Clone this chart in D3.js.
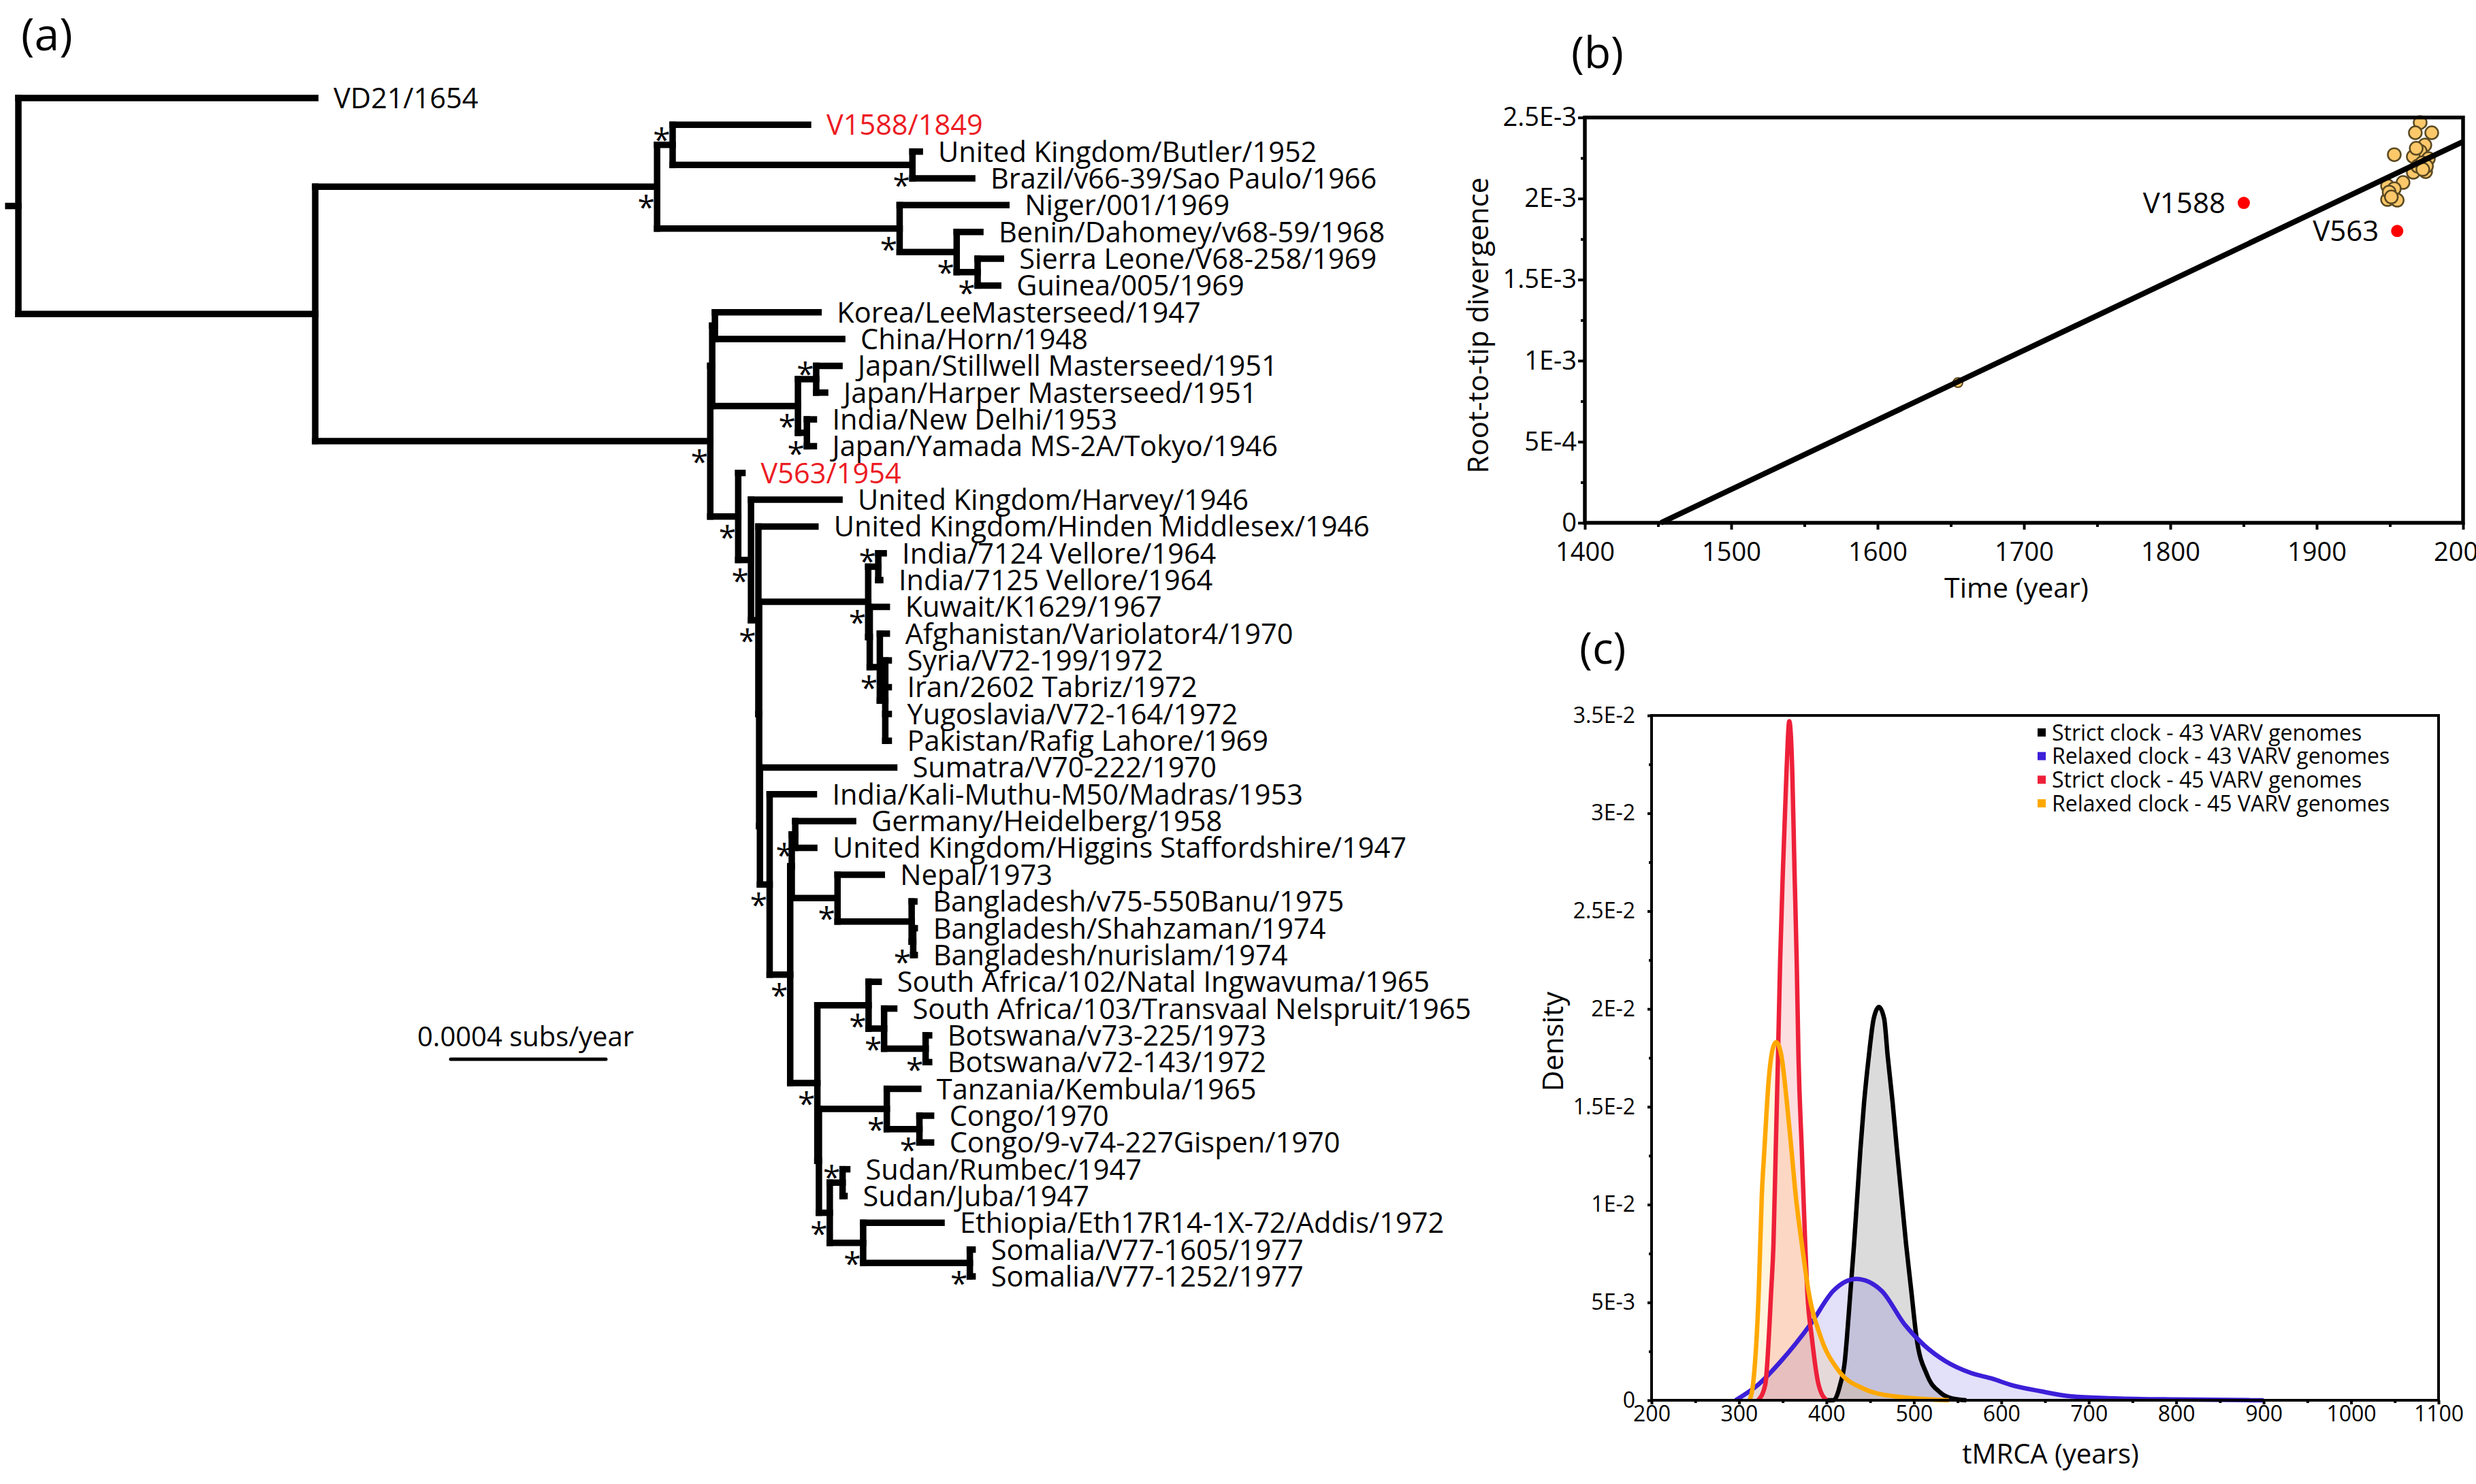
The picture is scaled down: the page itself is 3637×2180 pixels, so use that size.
<!DOCTYPE html>
<html>
<head>
<meta charset="utf-8">
<script src="https://cdn.jsdelivr.net/npm/d3@7"></script>
<style>
body { margin: 0; background: #fff; }
text { font-family: "Open Sans", sans-serif; }
</style>
</head>
<body>
<svg id="fig" width="3637" height="2180"></svg>
<script>
// ---------- (a) tree : [node, parent, branch length in 1e-5 subs/year] ----------
var treeNodes = [
  ["root", null, 0],
  ["VD21/1654", "root", 76.5],
  ["r2", "root", 76.5],
  ["U", "r2", 88.1],
  ["A", "U", 4.0],
  ["V1588/1849", "A", 34.9],
  ["BB", "A", 61.8],
  ["United Kingdom/Butler/1952", "BB", 1.9],
  ["Brazil/v66-39/Sao Paulo/1966", "BB", 15.4],
  ["AF", "U", 62.5],
  ["Niger/001/1969", "AF", 27.5],
  ["B", "AF", 14.7],
  ["Benin/Dahomey/v68-59/1968", "B", 6.1],
  ["C", "B", 5.4],
  ["Sierra Leone/V68-258/1969", "C", 6.0],
  ["Guinea/005/1969", "C", 5.3],
  ["N1", "r2", 101.8],
  ["X", "N1", 0.5],
  ["K", "X", 0.7],
  ["Korea/LeeMasterseed/1947", "K", 26.7],
  ["China/Horn/1948", "K", 32.8],
  ["J", "X", 22.1],
  ["J1", "J", 4.7],
  ["Japan/Stillwell Masterseed/1951", "J1", 6.0],
  ["Japan/Harper Masterseed/1951", "J1", 2.3],
  ["J2", "J", 2.3],
  ["India/New Delhi/1953", "J2", 1.8],
  ["Japan/Yamada MS-2A/Tokyo/1946", "J2", 1.8],
  ["R", "N1", 7.2],
  ["V563/1954", "R", 1.1],
  ["R2", "R", 3.3],
  ["United Kingdom/Harvey/1946", "R2", 22.8],
  ["R3", "R2", 1.9],
  ["United Kingdom/Hinden Middlesex/1946", "R3", 14.7],
  ["R4", "R3", 0.2],
  ["IND", "R4", 28.1],
  ["I2", "IND", 2.6],
  ["India/7124 Vellore/1964", "I2", 1.4],
  ["India/7125 Vellore/1964", "I2", 0.5],
  ["X2", "IND", 0.4],
  ["Kuwait/K1629/1967", "X2", 4.4],
  ["AFG", "X2", 2.6],
  ["Afghanistan/Variolator4/1970", "AFG", 1.8],
  ["AFG2", "AFG", 1.4],
  ["Syria/V72-199/1972", "AFG2", 0.9],
  ["Iran/2602 Tabriz/1972", "AFG2", 0.9],
  ["Yugoslavia/V72-164/1972", "AFG2", 0.9],
  ["Pakistan/Rafig Lahore/1969", "AFG2", 0.9],
  ["R5", "R4", 0.2],
  ["Sumatra/V70-222/1970", "R5", 34.6],
  ["Q", "R5", 2.5],
  ["India/Kali-Muthu-M50/Madras/1953", "Q", 11.4],
  ["Q2", "Q", 5.3],
  ["Q3", "Q2", 0.4],
  ["G", "Q3", 0.9],
  ["Germany/Heidelberg/1958", "G", 14.9],
  ["United Kingdom/Higgins Staffordshire/1947", "G", 4.9],
  ["NB", "Q3", 11.8],
  ["Nepal/1973", "NB", 11.4],
  ["BGD", "NB", 19.1],
  ["Bangladesh/v75-550Banu/1975", "BGD", 0.7],
  ["BGD2", "BGD", 0.4],
  ["Bangladesh/Shahzaman/1974", "BGD2", 0.4],
  ["Bangladesh/nurislam/1974", "BGD2", 0.4],
  ["L", "Q2", 7.0],
  ["SA", "L", 13.2],
  ["South Africa/102/Natal Ingwavuma/1965", "SA", 2.6],
  ["SA2", "SA", 4.0],
  ["South Africa/103/Transvaal Nelspruit/1965", "SA2", 2.6],
  ["BW", "SA2", 10.7],
  ["Botswana/v73-225/1973", "BW", 0.9],
  ["Botswana/v72-143/1972", "BW", 0.9],
  ["L2", "L", 0.4],
  ["TC", "L2", 17.5],
  ["Tanzania/Kembula/1965", "TC", 8.1],
  ["C2", "TC", 8.4],
  ["Congo/1970", "C2", 3.0],
  ["Congo/9-v74-227Gispen/1970", "C2", 3.0],
  ["SES", "L2", 2.8],
  ["SD", "SES", 3.3],
  ["Sudan/Rumbec/1947", "SD", 1.2],
  ["Sudan/Juba/1947", "SD", 0.5],
  ["ES", "SES", 8.6],
  ["Ethiopia/Eth17R14-1X-72/Addis/1972", "ES", 20.2],
  ["SO", "ES", 27.5],
  ["Somalia/V77-1605/1977", "SO", 0.7],
  ["Somalia/V77-1252/1977", "SO", 0.7]
];
var rootStub = 2.6;
var redTips = ["V1588/1849", "V563/1954"];
var starBelow = ["U", "BB", "AF", "B", "C", "N1", "J", "J2", "R", "R2", "R3", "IND", "AFG", "Q", "G",
                 "Q2", "NB", "BGD2", "L", "SA", "SA2", "BW", "TC", "C2", "SES", "ES", "SO"];
var starAbove = ["A", "J1", "I2", "SD"];
var scaleBarValue = 40;            // 40 x 1e-5 = 0.0004
var scaleBarText = "0.0004 subs/year";

// ---------- (b) root-to-tip ----------
var bYearTicks = [1400, 1500, 1600, 1700, 1800, 1900, 2000];
var bYearMinor = [1450, 1550, 1650, 1750, 1850, 1950];
var bDivTicks = [0, 5e-4, 1e-3, 1.5e-3, 2e-3, 2.5e-3];
var bDivLabels = ["0", "5E-4", "1E-3", "1.5E-3", "2E-3", "2.5E-3"];
var bDivMinor = [2.5e-4, 7.5e-4, 1.25e-3, 1.75e-3, 2.25e-3];
var sampleYears = [1970.7, 1967.4, 1978.6, 1973.9, 1970.7, 1953.0, 1966.0, 1976.3, 1966.0, 1974.4,
                   1959.0, 1948.4, 1953.0, 1948.4, 1955.0, 1949.5, 1951.0, 1969.0, 1972.0, 1975.0, 1968.0, 1972.5];
var sampleDiv   = [2.469e-3, 2.406e-3, 2.406e-3, 2.330e-3, 2.292e-3, 2.271e-3, 2.259e-3, 2.246e-3, 2.162e-3, 2.166e-3,
                   2.099e-3, 2.078e-3, 2.061e-3, 1.994e-3, 1.990e-3, 2.040e-3, 2.010e-3, 2.200e-3, 2.220e-3, 2.200e-3, 2.310e-3, 2.180e-3];
var ancientYear = [1654.9];
var ancientDiv = [8.65e-4];
var outlierNames = ["V1588", "V563"];
var outlierYears = [1850.2, 1955.0];
var outlierDiv = [1.973e-3, 1.80e-3];
var fitYears = [1452, 2000];
var fitDiv = [0, 2.351e-3];

// ---------- (c) tMRCA densities ----------
var cYearTicks = [200, 300, 400, 500, 600, 700, 800, 900, 1000, 1100];
var cYearMinor = [250, 350, 450, 550, 650, 750, 850, 950, 1050];
var cDensTicks = [0, 0.005, 0.01, 0.015, 0.02, 0.025, 0.03, 0.035];
var cDensLabels = ["0", "5E-3", "1E-2", "1.5E-2", "2E-2", "2.5E-2", "3E-2", "3.5E-2"];
var cDensMinor = [0.0025, 0.0075, 0.0125, 0.0175, 0.0225, 0.0275, 0.0325];
var seriesNames = ["Strict clock - 43 VARV genomes", "Relaxed clock - 43 VARV genomes",
                   "Strict clock - 45 VARV genomes", "Relaxed clock - 45 VARV genomes"];
var seriesColors = ["#000000", "#3c1fd8", "#ee2039", "#ffa800"];
var seriesFills = ["rgba(0,0,0,0.14)", "rgba(70,50,220,0.15)", "rgba(238,32,57,0.15)", "rgba(255,168,0,0.13)"];
var strict43Yr  = [400, 408, 415.7, 421, 423.4, 427.5, 431.6, 438.8, 443, 448.5, 454, 460, 466, 470, 475.7, 480.6, 491, 497, 503, 515, 530, 543, 560];
var strict43Den = [0, 0, 0.0008, 0.0020, 0.0032, 0.0056, 0.0080, 0.0128, 0.0152, 0.0176, 0.0195, 0.0201, 0.0195, 0.0176, 0.0152, 0.0128, 0.0080, 0.0056, 0.0032, 0.0013, 0.0004, 0.0001, 0];
var relaxed43Yr  = [296, 322, 348, 382, 408, 434, 463, 489, 512, 536, 565, 590, 610, 645, 680, 730, 800, 900];
var relaxed43Den = [0, 0.0008, 0.0020, 0.0039, 0.0056, 0.0062, 0.0056, 0.0039, 0.0028, 0.0020, 0.0014, 0.0011, 0.0008, 0.00046, 0.0002, 0.0001, 0.00004, 0];
var strict45Yr  = [322, 330, 336.8, 339.4, 342, 344.6, 347, 350.3, 354.2, 357.5, 361, 363.4, 366, 368, 371.8, 375.7, 378, 383.3, 391, 400];
var strict45Den = [0, 0.0008, 0.0056, 0.0080, 0.0128, 0.0176, 0.0224, 0.0272, 0.0320, 0.0347, 0.0320, 0.0272, 0.0224, 0.0176, 0.0128, 0.0080, 0.0056, 0.0032, 0.0008, 0];
var relaxed45Yr  = [312, 316, 322.6, 326, 329, 334, 339.4, 342.5, 348.5, 354.8, 360, 365, 371.8, 379.4, 393.7, 413.4, 442, 478, 540];
var relaxed45Den = [0, 0.0008, 0.0056, 0.0104, 0.0128, 0.0164, 0.0181, 0.0183, 0.0176, 0.0152, 0.0128, 0.0104, 0.0080, 0.0056, 0.0032, 0.00154, 0.0006, 0.0002, 0];
var seriesYr = [strict43Yr, relaxed43Yr, strict45Yr, relaxed45Yr];
var seriesDen = [strict43Den, relaxed43Den, strict45Den, relaxed45Den];

var svg = d3.select("#fig");
svg.append("rect").attr("width", 3637).attr("height", 2180).attr("fill", "#fff");

// panel letters
svg.append("text").attr("x", 31).attr("y", 74).attr("font-size", 66).text("(a)");
svg.append("text").attr("x", 2308).attr("y", 100).attr("font-size", 64).text("(b)");
svg.append("text").attr("x", 2320).attr("y", 975).attr("font-size", 64).text("(c)");

// ================= (a) =================
var treeX = d3.scaleLinear().domain([0, 40]).range([27, 255]);
var tree = d3.stratify()
    .id(function(d) { return d[0]; })
    .parentId(function(d) { return d[1]; })(treeNodes);
tree.eachBefore(function(n) { n.len = n.parent ? n.parent.len + n.data[2] : 0; });
var tips = tree.leaves();
var treeY = d3.scaleLinear().domain([0, tips.length - 1]).range([144, 1875]);
tips.forEach(function(n, i) { n.ypos = treeY(i); });
tree.eachAfter(function(n) {
  if (n.children) n.ypos = (n.children[0].ypos + n.children[n.children.length - 1].ypos) / 2;
});

var gTree = svg.append("g")
    .attr("stroke", "#000").attr("stroke-width", 9.5)
    .attr("stroke-linecap", "square").attr("fill", "none");

gTree.selectAll("line.h").data(tree.descendants()).join("line")
    .attr("class", "h")
    .attr("x1", function(d) { return d.parent ? treeX(d.parent.len) : treeX(-rootStub); })
    .attr("x2", function(d) { return treeX(d.len); })
    .attr("y1", function(d) { return d.ypos; })
    .attr("y2", function(d) { return d.ypos; });

gTree.selectAll("line.v").data(tree.descendants().filter(function(d) { return d.children; })).join("line")
    .attr("class", "v")
    .attr("x1", function(d) { return treeX(d.len); })
    .attr("x2", function(d) { return treeX(d.len); })
    .attr("y1", function(d) { return d.children[0].ypos; })
    .attr("y2", function(d) { return d.children[d.children.length - 1].ypos; });

svg.append("g").selectAll("text").data(tips).join("text")
    .attr("x", function(d) { return treeX(d.len) + 27; })
    .attr("y", function(d) { return d.ypos; })
    .attr("dy", "0.36em")
    .attr("font-size", 41.5)
    .attr("fill", function(d) { return redTips.indexOf(d.id) >= 0 ? "#ec1c24" : "#000"; })
    .text(function(d) { return d.id; });

// support asterisks
var byId = {};
tree.each(function(n) { byId[n.id] = n; });
var stars = starBelow.map(function(id) { return {n: byId[id], dy: 22}; })
    .concat(starAbove.map(function(id) { return {n: byId[id], dy: -16}; }));
svg.append("g").selectAll("text").data(stars).join("text")
    .attr("x", function(d) { return treeX(d.n.len) - 16; })
    .attr("y", function(d) { return d.n.ypos + d.dy + 25; })
    .attr("text-anchor", "middle")
    .attr("font-size", 46)
    .attr("font-family", "DejaVu Sans")
    .text("*");

// scale bar
var sbX0 = 662;
svg.append("line")
    .attr("x1", sbX0).attr("x2", sbX0 + treeX(scaleBarValue) - treeX(0))
    .attr("y1", 1556).attr("y2", 1556)
    .attr("stroke", "#000").attr("stroke-width", 5).attr("stroke-linecap", "round");
svg.append("text").attr("x", 613).attr("y", 1537).attr("font-size", 40).text(scaleBarText);

// ================= (b) =================
var bx = d3.scaleLinear().domain([1400, 2000]).range([2328, 3618]);
var by = d3.scaleLinear().domain([0, 2.5e-3]).range([768, 172.6]);

function styleAxis(g, fs) {
  g.select(".domain").remove();
  g.selectAll(".tick line").attr("stroke", "#000").attr("stroke-width", 4);
  g.selectAll(".tick text").attr("font-size", fs).attr("fill", "#000")
      .attr("font-family", "'Open Sans', sans-serif");
}

var gbx = svg.append("g").attr("transform", "translate(0,768)")
    .call(d3.axisBottom(bx).tickValues(bYearTicks).tickFormat(d3.format("d")).tickSize(10).tickPadding(19));
styleAxis(gbx, 38);
var gbxm = svg.append("g").attr("transform", "translate(0,768)")
    .call(d3.axisBottom(bx).tickValues(bYearMinor).tickFormat("").tickSize(6));
styleAxis(gbxm, 0);
var gby = svg.append("g").attr("transform", "translate(2328,0)")
    .call(d3.axisLeft(by).tickValues(bDivTicks).tickFormat(function(d, i) { return bDivLabels[i]; }).tickSize(10).tickPadding(2));
styleAxis(gby, 38);
var gbym = svg.append("g").attr("transform", "translate(2328,0)")
    .call(d3.axisLeft(by).tickValues(bDivMinor).tickFormat("").tickSize(6));
styleAxis(gbym, 0);

// ancient + modern samples
svg.append("g").selectAll("circle").data(ancientYear).join("circle")
    .attr("cx", function(d) { return bx(d); })
    .attr("cy", function(d, i) { return by(ancientDiv[i]); })
    .attr("r", 7).attr("fill", "#fcc86a").attr("stroke", "#5b4a22").attr("stroke-width", 2);
svg.append("g").selectAll("circle").data(sampleYears).join("circle")
    .attr("cx", function(d) { return bx(d); })
    .attr("cy", function(d, i) { return by(sampleDiv[i]); })
    .attr("r", 9.5).attr("fill", "#fcc86a").attr("stroke", "#5b4a22").attr("stroke-width", 2.5);

// regression line
svg.append("path")
    .datum(fitYears.map(function(y, i) { return [y, fitDiv[i]]; }))
    .attr("d", d3.line().x(function(d) { return bx(d[0]); }).y(function(d) { return by(d[1]); }))
    .attr("stroke", "#000").attr("stroke-width", 8).attr("fill", "none");

// outliers
svg.append("g").selectAll("circle").data(outlierYears).join("circle")
    .attr("cx", function(d) { return bx(d); })
    .attr("cy", function(d, i) { return by(outlierDiv[i]); })
    .attr("r", 9).attr("fill", "#ff0000");
svg.append("g").selectAll("text").data(outlierNames).join("text")
    .attr("x", function(d, i) { return bx(outlierYears[i]) - 27; })
    .attr("y", function(d, i) { return by(outlierDiv[i]); })
    .attr("dy", "0.36em").attr("text-anchor", "end").attr("font-size", 42)
    .text(function(d) { return d; });

svg.append("rect").attr("x", 2328).attr("y", 172.6).attr("width", 3618 - 2328).attr("height", 768 - 172.6)
    .attr("fill", "none").attr("stroke", "#000").attr("stroke-width", 5.5);

svg.append("text").attr("x", 2962).attr("y", 878).attr("text-anchor", "middle").attr("font-size", 41).text("Time (year)");
svg.append("text").attr("transform", "translate(2186,478) rotate(-90)").attr("text-anchor", "middle")
    .attr("font-size", 42).text("Root-to-tip divergence");

// ================= (c) =================
var cx = d3.scaleLinear().domain([200, 1100]).range([2426, 3582]);
var cy = d3.scaleLinear().domain([0, 0.035]).range([2057, 1051]);

var area = d3.area().curve(d3.curveMonotoneX)
    .x(function(d) { return cx(d[0]); }).y0(cy(0)).y1(function(d) { return cy(d[1]); });
var line = d3.line().curve(d3.curveMonotoneX)
    .x(function(d) { return cx(d[0]); }).y(function(d) { return cy(d[1]); });
var seriesPts = seriesYr.map(function(xs, s) { return xs.map(function(x, i) { return [x, seriesDen[s][i]]; }); });

svg.append("g").selectAll("path").data(seriesPts).join("path")
    .attr("d", area).attr("fill", function(d, i) { return seriesFills[i]; });
svg.append("g").selectAll("path").data(seriesPts).join("path")
    .attr("d", line).attr("fill", "none")
    .attr("stroke", function(d, i) { return seriesColors[i]; })
    .attr("stroke-width", 6.5).attr("stroke-linejoin", "round");

var gcx = svg.append("g").attr("transform", "translate(0,2057)")
    .call(d3.axisBottom(cx).tickValues(cYearTicks).tickFormat(d3.format("d")).tickSize(6).tickPadding(2));
styleAxis(gcx, 32);
var gcxm = svg.append("g").attr("transform", "translate(0,2057)")
    .call(d3.axisBottom(cx).tickValues(cYearMinor).tickFormat("").tickSize(4));
styleAxis(gcxm, 0);
var gcy = svg.append("g").attr("transform", "translate(2426,0)")
    .call(d3.axisLeft(cy).tickValues(cDensTicks).tickFormat(function(d, i) { return cDensLabels[i]; }).tickSize(6).tickPadding(18));
styleAxis(gcy, 32);
var gcym = svg.append("g").attr("transform", "translate(2426,0)")
    .call(d3.axisLeft(cy).tickValues(cDensMinor).tickFormat("").tickSize(4));
styleAxis(gcym, 0);

svg.append("rect").attr("x", 2426).attr("y", 1051).attr("width", 3582 - 2426).attr("height", 2057 - 1051)
    .attr("fill", "none").attr("stroke", "#000").attr("stroke-width", 4);

// legend
var leg = svg.append("g").selectAll("g").data(seriesNames).join("g")
    .attr("transform", function(d, i) { return "translate(2993," + (1076 + i * 34.7) + ")"; });
leg.append("rect").attr("x", 0).attr("y", -6).attr("width", 12).attr("height", 12)
    .attr("fill", function(d, i) { return seriesColors[i]; });
leg.append("text").attr("x", 21).attr("dy", "0.36em").attr("font-size", 32).text(function(d) { return d; });

svg.append("text").attr("x", 3012).attr("y", 2150).attr("text-anchor", "middle").attr("font-size", 40).text("tMRCA (years)");
svg.append("text").attr("transform", "translate(2296,1530) rotate(-90)").attr("text-anchor", "middle")
    .attr("font-size", 42).text("Density");
</script>
</body>
</html>
